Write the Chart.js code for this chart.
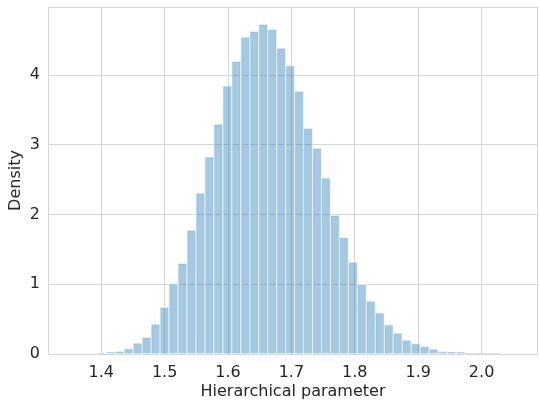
<!DOCTYPE html>
<html>
<head>
<meta charset="utf-8">
<script src="https://cdn.jsdelivr.net/npm/chart.js@4/dist/chart.umd.min.js"></script>
<style>
  html, body { margin: 0; padding: 0; background: #fff; }
  #wrap { width: 539px; height: 403px; }
</style>
</head>
<body>
<div id="wrap"><canvas id="histChart"></canvas></div>
<script>
// histogram bins (50 equal bins)
const binStart = 1.3512;
const binWidth = 0.01415;
const densities = [
  0, 0, 0, 0.01, 0.025, 0.04, 0.076, 0.158, 0.24, 0.43,
  0.67, 1.01, 1.30, 1.78, 2.31, 2.83, 3.30, 3.85, 4.20, 4.55,
  4.63, 4.73, 4.66, 4.39, 4.14, 3.77, 3.24, 2.95, 2.53, 1.99,
  1.67, 1.32, 1.00, 0.76, 0.59, 0.42, 0.30, 0.20, 0.15, 0.105,
  0.07, 0.035, 0.03, 0.025, 0.012, 0.01, 0.005, 0.004, 0, 0
];
const xTicks = [1.4, 1.5, 1.6, 1.7, 1.8, 1.9, 2.0];
const yTicks = [0, 1, 2, 3, 4];

const textColor = '#262626';
const gridColor = '#d5d5d5';

const points = densities.map((d, i) => ({ x: binStart + binWidth * (i + 0.5), y: d }));

// seaborn whitegrid draws all four spines
const frame = {
  id: 'frame',
  afterDraw(chart) {
    const a = chart.chartArea;
    const ctx = chart.ctx;
    ctx.save();
    ctx.strokeStyle = gridColor;
    ctx.lineWidth = 1;
    ctx.strokeRect(a.left + 0.5, a.top + 0.5, a.right - a.left - 1, a.bottom - a.top);
    ctx.restore();
  }
};

const ctx = document.getElementById('histChart').getContext('2d');
new Chart(ctx, {
  type: 'bar',
  data: {
    datasets: [{
      data: points,
      backgroundColor: 'rgba(31, 119, 180, 0.4)',
      borderColor: 'rgba(225, 236, 245, 0.9)',
      borderWidth: 1,
      borderSkipped: 'bottom',
      barPercentage: 1,
      categoryPercentage: 1
    }]
  },
  options: {
    responsive: true,
    maintainAspectRatio: false,
    animation: false,
    layout: { padding: { top: 7, right: 1, left: 0, bottom: 0 } },
    plugins: {
      legend: { display: false },
      tooltip: { enabled: false }
    },
    scales: {
      x: {
        type: 'linear',
        offset: false,
        min: 1.316,
        max: 2.089,
        afterFit: s => { s.height = 49; s.paddingLeft = 0; s.paddingRight = 0; },
        afterBuildTicks: s => { s.ticks = xTicks.map(v => ({ value: v })); },
        grid: { color: gridColor, drawTicks: false, offset: false },
        border: { display: false },
        ticks: {
          color: textColor,
          padding: 9,
          font: { family: 'DejaVu Sans', size: 16 },
          callback: v => v.toFixed(1)
        },
        title: {
          display: true,
          text: 'Hierarchical parameter',
          color: textColor,
          font: { family: 'DejaVu Sans', size: 16 },
          padding: { top: 0, bottom: 2 }
        }
      },
      y: {
        min: 0,
        max: 4.98,
        afterFit: s => { s.width = 48; s.paddingTop = 0; s.paddingBottom = 0; },
        afterBuildTicks: s => { s.ticks = yTicks.map(v => ({ value: v })); },
        grid: { color: gridColor, drawTicks: false },
        border: { display: false },
        ticks: {
          color: textColor,
          padding: 8,
          font: { family: 'DejaVu Sans', size: 16 },
          callback: v => String(v)
        },
        title: {
          display: true,
          text: 'Density',
          color: textColor,
          font: { family: 'DejaVu Sans', size: 16 },
          padding: { top: 6, bottom: 0 }
        }
      }
    }
  },
  plugins: [frame]
});
</script>
</body>
</html>
